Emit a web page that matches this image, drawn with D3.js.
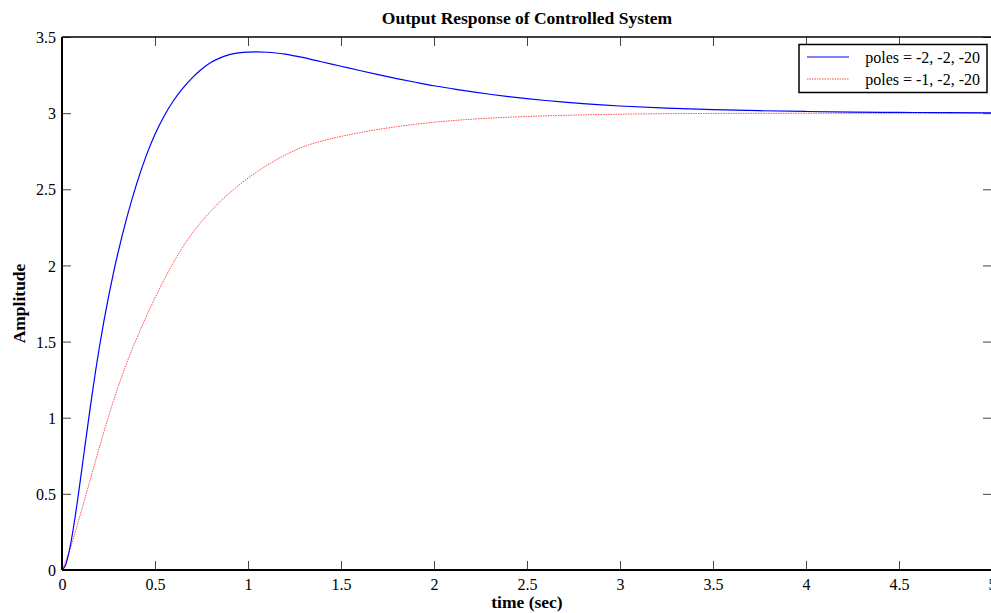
<!DOCTYPE html>
<html><head><meta charset="utf-8">
<script src="https://cdn.jsdelivr.net/npm/d3@7"></script>
<style>body{margin:0;background:#fff}svg{display:block}svg text{font-family:"Liberation Serif","Times New Roman",serif !important}</style>
</head><body>
<svg id="c" width="991" height="613"></svg>
<script>
const title = "Output Response of Controlled System";
const xLabel = "time (sec)";
const yLabel = "Amplitude";
const xTicks = [0, 0.5, 1, 1.5, 2, 2.5, 3, 3.5, 4, 4.5, 5];
const yTicks = [0, 0.5, 1, 1.5, 2, 2.5, 3, 3.5];
const seriesNames = ["poles = -2, -2, -20", "poles = -1, -2, -20"];
const blueT = [0,0.02,0.04,0.06,0.08,0.10,0.12,0.14,0.16,0.18,0.20,0.225,0.25,0.275,0.30,0.35,0.40,0.45,0.50,0.55,0.60,0.65,0.70,0.75,0.80,0.85,0.90,0.95,1.00,1.05,1.10,1.15,1.20,1.25,1.30,1.35,1.40,1.50,1.60,1.70,1.80,1.90,2.00,2.10,2.20,2.30,2.40,2.50,2.60,2.70,2.80,2.90,3.00,3.25,3.50,3.75,4.00,4.25,4.50,4.75,5.00];
const blueV = [0,0.035,0.13,0.266,0.427,0.602,0.783,0.963,1.137,1.302,1.456,1.632,1.793,1.942,2.078,2.321,2.531,2.711,2.861,2.983,3.083,3.164,3.232,3.288,3.332,3.363,3.384,3.396,3.401,3.402,3.400,3.395,3.387,3.376,3.364,3.350,3.336,3.308,3.280,3.253,3.227,3.203,3.180,3.160,3.141,3.124,3.109,3.095,3.083,3.072,3.062,3.054,3.047,3.033,3.023,3.016,3.011,3.007,3.005,3.003,3.002];
const redT = [0,0.05,0.10,0.15,0.20,0.25,0.30,0.35,0.40,0.50,0.55,0.60,0.65,0.70,0.75,0.80,0.85,0.90,0.95,1.00,1.10,1.20,1.30,1.40,1.50,1.60,1.70,1.80,1.90,2.00,2.25,2.50,2.75,3.00,3.50,4.00,5.00];
const redV = [0,0.1625,0.37,0.586,0.801,1.007,1.196,1.365,1.516,1.786,1.909,2.021,2.122,2.211,2.288,2.357,2.419,2.475,2.526,2.573,2.656,2.725,2.780,2.818,2.847,2.872,2.893,2.911,2.927,2.940,2.964,2.978,2.987,2.993,2.998,2.999,3.0];

const FONT = '"Liberation Serif","Times New Roman",serif';
const svg = d3.select("#c");
const L = 62, R = 992, T = 37, B = 570;
const x = d3.scaleLinear().domain([0, 5]).range([L, R]);
const y = d3.scaleLinear().domain([0, 3.5]).range([B, T]);

const tickLen = 9;
const gx = svg.append("g").attr("transform", `translate(0,${B})`)
  .call(d3.axisBottom(x).tickValues(xTicks).tickSizeInner(-tickLen).tickSizeOuter(0).tickPadding(9).tickFormat(d3.format("")));
const gxt = svg.append("g").attr("transform", `translate(0,${T})`)
  .call(d3.axisTop(x).tickValues(xTicks).tickSizeInner(-tickLen).tickSizeOuter(0).tickFormat(""));
const gy = svg.append("g").attr("transform", `translate(${L},0)`)
  .call(d3.axisLeft(y).tickValues(yTicks).tickSizeInner(-tickLen).tickSizeOuter(0).tickPadding(6).tickFormat(d3.format("")));
const gyr = svg.append("g").attr("transform", `translate(${R},0)`)
  .call(d3.axisRight(y).tickValues(yTicks).tickSizeInner(-tickLen).tickSizeOuter(0).tickFormat(""));
[gx, gxt, gy, gyr].forEach(g => {
  g.attr("font-family", FONT);
  g.select(".domain").remove();
  g.selectAll(".tick line").attr("stroke", "#444").attr("stroke-width", 1);
  g.selectAll("text").attr("font-size", 16).attr("fill", "#000").style("font-family", FONT);
});
gy.selectAll("text").attr("dy", "0.35em");

const redColor = "#ff4d4d";
const line = d3.line().x(d => x(d[0])).y(d => y(d[1])).curve(d3.curveMonotoneX);
const redData = redT.map((t, i) => [t, redV[i]]);
const blueData = blueT.map((t, i) => [t, blueV[i]]);
svg.append("path").datum(redData).attr("d", line)
  .attr("fill", "none").attr("stroke", redColor).attr("stroke-width", 1).attr("stroke-dasharray", "1.5,1");
svg.append("path").datum(blueData).attr("d", line)
  .attr("fill", "none").attr("stroke", "#0000ff").attr("stroke-width", 1.2);

svg.append("line").attr("x1", L).attr("x2", L).attr("y1", T).attr("y2", B).attr("stroke", "#000").attr("stroke-width", 2);
svg.append("line").attr("x1", L).attr("x2", R).attr("y1", B).attr("y2", B).attr("stroke", "#000").attr("stroke-width", 2);
svg.append("line").attr("x1", L).attr("x2", R).attr("y1", T).attr("y2", T).attr("stroke", "#000").attr("stroke-width", 1.5);
svg.append("line").attr("x1", R).attr("x2", R).attr("y1", T).attr("y2", B).attr("stroke", "#000").attr("stroke-width", 1.5);

svg.append("text").attr("x", (L + R) / 2).attr("y", 24).attr("text-anchor", "middle")
  .attr("font-size", 17.5).attr("font-weight", "bold").style("font-family", FONT).text(title);
svg.append("text").attr("x", (L + R) / 2).attr("y", 608).attr("text-anchor", "middle")
  .attr("font-size", 17.5).attr("font-weight", "bold").style("font-family", FONT).text(xLabel);
svg.append("text").attr("transform", `translate(25,${(T + B) / 2}) rotate(-90)`).attr("text-anchor", "middle")
  .attr("font-size", 17.5).attr("font-weight", "bold").style("font-family", FONT).text(yLabel);

const lg = svg.append("g");
lg.append("rect").attr("x", 799).attr("y", 44.5).attr("width", 188).attr("height", 48)
  .attr("fill", "#fff").attr("stroke", "#000").attr("stroke-width", 1.5);
const legendColors = ["#0000ff", redColor];
const legendDash = [null, "1.5,1"];
seriesNames.forEach((name, i) => {
  const ly = 57 + i * 22;
  lg.append("line").attr("x1", 807).attr("x2", 849).attr("y1", ly).attr("y2", ly)
    .attr("stroke", legendColors[i]).attr("stroke-width", 1.2).attr("stroke-dasharray", legendDash[i]);
  lg.append("text").attr("x", 980).attr("y", ly + 5.5).attr("text-anchor", "end")
    .attr("font-size", 16).style("font-family", FONT).text(name);
});
</script>
</body></html>
